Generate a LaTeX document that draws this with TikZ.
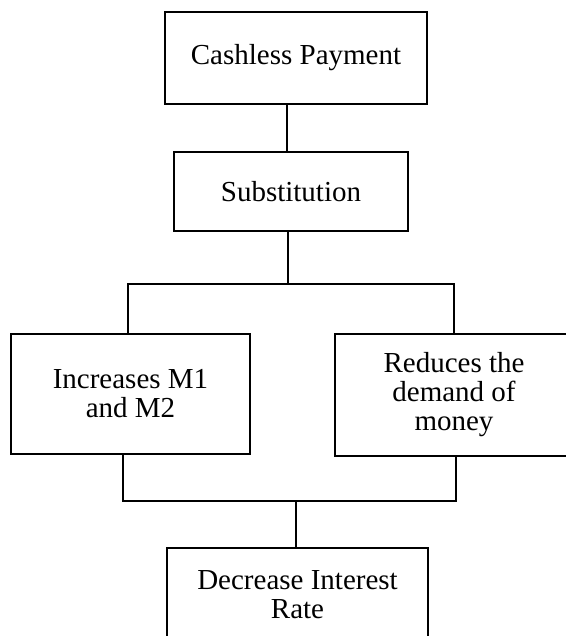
\documentclass[tikz,border=0pt]{standalone}
\usepackage{fontspec}
\setmainfont{Liberation Serif}
\usetikzlibrary{positioning}

\begin{document}
\begin{tikzpicture}[x=0.5pt,y=-0.5pt,
  box/.style={draw=black,line width=1pt,align=center,inner sep=0pt,
    font=\fontsize{14.5}{14.5}\selectfont},
  link/.style={draw=black,line width=1pt}]
\useasboundingbox (0,0) rectangle (566,636);
\clip (0,0) rectangle (566,636);
\node[box,minimum width=131pt,minimum height=46pt] (cash) at (296,58) {Cashless Payment};
\node[box,minimum width=117pt,minimum height=39.5pt] (subst) at (291,191.5) {Substitution};
\node[box,minimum width=119.5pt,minimum height=60pt] (incr) at (130.5,394) {Increases M1\\and M2};
\node[box,minimum width=119pt,minimum height=61pt] (reduce) at (454,395) {Reduces the\\demand of\\money};
\node[box,minimum width=130.5pt,minimum height=47pt] (decr) at (297.5,595) {Decrease Interest\\Rate};
\coordinate (stem) at (287,128);
\coordinate (split) at (288,284);
\coordinate (splitL) at (128,284);
\coordinate (splitR) at (454,284);
\coordinate (join) at (296,501);
\coordinate (joinL) at (123,501);
\coordinate (joinR) at (456,501);
\draw[link] (cash.south -| stem) -- (subst.north -| stem);
\draw[link] (subst.south -| split) -- (split);
\draw[link] (incr.north -| splitL) -- (splitL) -- (splitR) -- (reduce.north -| splitR);
\draw[link] (incr.south -| joinL) -- (joinL) -- (joinR) -- (reduce.south -| joinR);
\draw[link] (join) -- (decr.north -| join);
\end{tikzpicture}
\end{document}
